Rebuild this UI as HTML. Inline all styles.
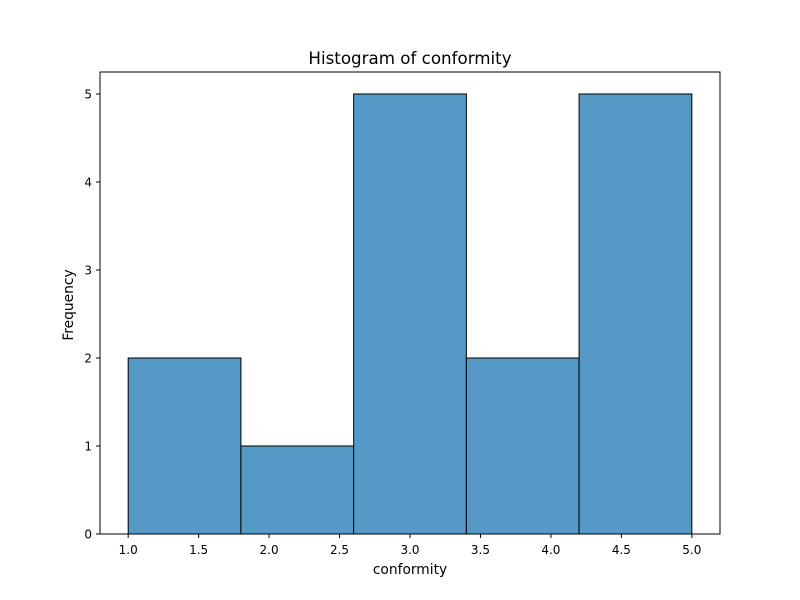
<!DOCTYPE html>
<html><head><meta charset="utf-8"><style>body{margin:0;background:#fff}svg{display:block}text{font-family:"DejaVu Sans","Liberation Sans",sans-serif;fill:#000}</style></head>
<body>
<svg id="chart" width="800" height="600"></svg>
<script>
const binEdges=[1.0,1.8,2.6,3.4,4.2,5.0];
const counts=[2,1,5,2,5];
const xTicks=[1.0,1.5,2.0,2.5,3.0,3.5,4.0,4.5,5.0];
const yTicks=[0,1,2,3,4,5];
const L=100,R=720,T=72,B=534,xMin=0.8,xMax=5.2,yMin=0,yMax=5.25;
const sx=v=>L+(v-xMin)/(xMax-xMin)*(R-L);
const sy=v=>B-(v-yMin)/(yMax-yMin)*(B-T);
const svg=document.getElementById('chart');const NS='http://www.w3.org/2000/svg';
function mk(tag,attrs,txt){const e=document.createElementNS(NS,tag);for(const k in attrs)e.setAttribute(k,attrs[k]);if(txt!==undefined)e.textContent=txt;svg.appendChild(e);return e;}
counts.forEach((c,i)=>{const x0=sx(binEdges[i]),x1=sx(binEdges[i+1]);
const r=mk('rect',{x:x0,y:sy(c),width:x1-x0,height:sy(0)-sy(c),fill:'#5599c7',stroke:'#000','stroke-width':1});

});
const f=mk('rect',{x:L,y:T,width:R-L,height:B-T,fill:'none',stroke:'#000','stroke-width':1});


xTicks.forEach(t=>{const x=sx(t);mk('line',{x1:x,x2:x,y1:B,y2:B+4,stroke:'#000'});
const tx=mk('text',{x:x,y:B+20,'text-anchor':'middle','font-size':12},t.toFixed(1));

});
yTicks.forEach(t=>{const y=sy(t);mk('line',{x1:L-4,x2:L,y1:y,y2:y,stroke:'#000'});
const tx=mk('text',{x:L-8,y:y+4.5,'text-anchor':'end','font-size':12},t);

});
const xt=mk('text',{x:(L+R)/2,y:574,'text-anchor':'middle','font-size':13.8},'conformity');


const yt=mk('text',{x:0,y:0,'text-anchor':'middle','font-size':13.8,transform:'translate(73,305) rotate(-90)'},'Frequency');


const tt=mk('text',{x:(L+R)/2,y:64,'text-anchor':'middle','font-size':16.7},'Histogram of conformity');


</script>
</body></html>
